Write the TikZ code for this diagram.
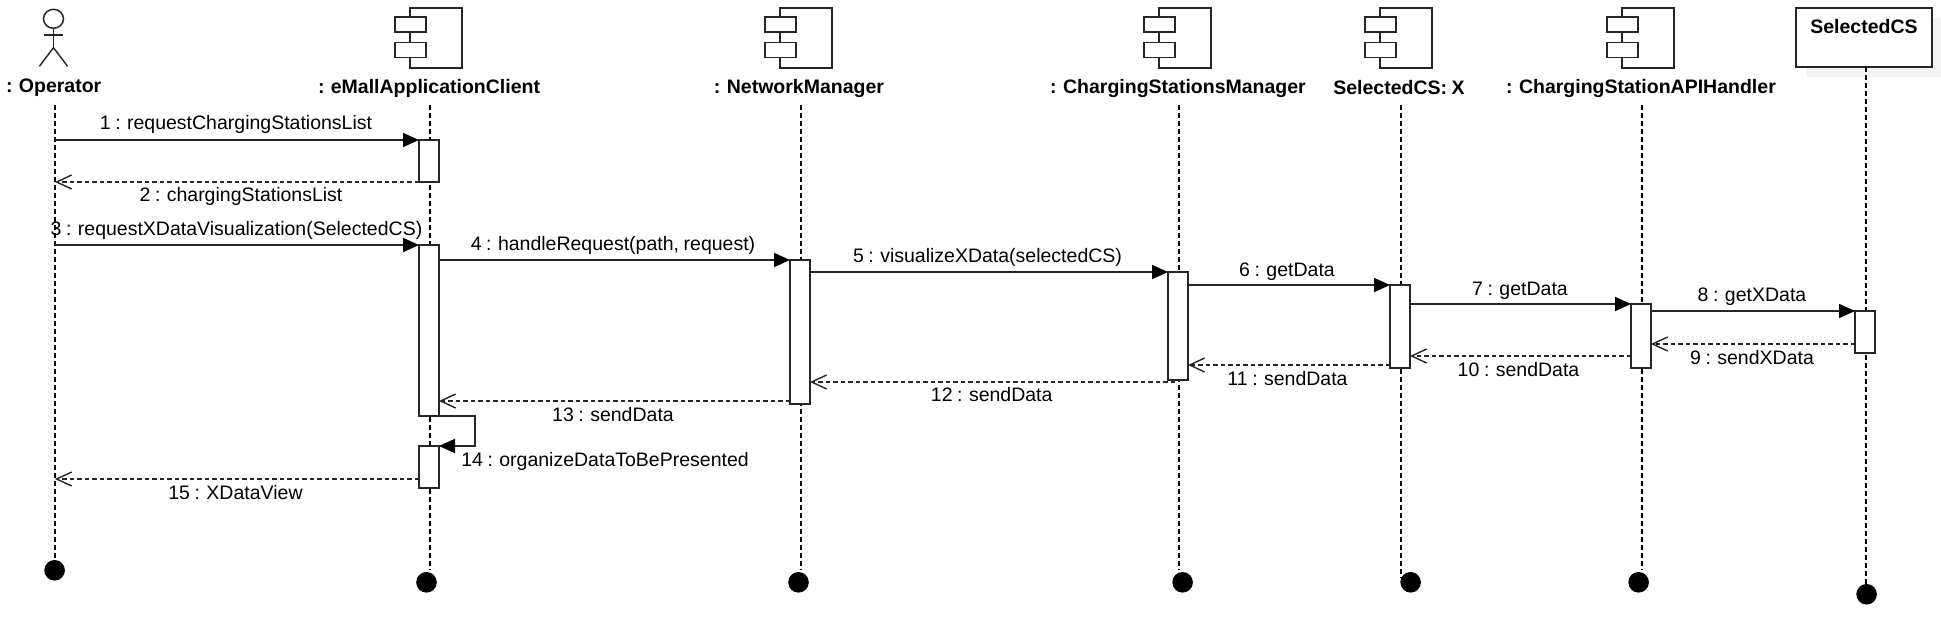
\documentclass[tikz,border=0pt]{standalone}
\usepackage{fontspec}
\setmainfont{Liberation Sans}[WordSpace=0.85]
\usetikzlibrary{arrows.meta,shapes.geometric}
\tikzset{
  x=1pt,y=-1pt,
  ln/.style={draw=black!85,line width=1.8pt},
  life/.style={draw=black,line width=1.25pt,dash pattern=on 5pt off 3pt},
  act/.style={ln,fill=white,inner sep=0pt,outer sep=0pt,minimum width=20pt,anchor=north west},
  part/.style={ln,fill=white,inner sep=0pt,outer sep=0pt,minimum width=31pt,minimum height=15pt,anchor=north west},
  bodybox/.style={ln,fill=white,inner sep=0pt,outer sep=0pt,minimum width=52pt,minimum height=60pt,anchor=north west},
  headlbl/.style={inner sep=0pt,font=\fontsize{19.5}{22}\selectfont\bfseries},
  msg/.style={inner sep=0pt,font=\fontsize{19.5}{22}\selectfont},
  enddot/.style={circle,fill=black,inner sep=0pt,minimum size=20.6pt},
  call/.style={ln,-{Triangle[length=16pt,width=14pt,color=black]}},
  ret/.style={ln,dash pattern=on 4.5pt off 3pt,-{Straight Barb[length=15pt,width=14pt,line width=1.4pt]}},
}
\newcommand{\comp}[2]{%
  \node[bodybox] (#1) at (#2,8) {};
  \node[part] (#1p) at (#2-15,17) {};
  \node[part] (#1q) at (#2-15,42.5) {};
}
\begin{document}
\begin{tikzpicture}
\useasboundingbox (0,0) rectangle (1941,637);
% shadow behind the SelectedCS box
\fill[black!5] (1807,18) rectangle (1941,77);

% actor
\node[ellipse,ln,line width=1.5pt,inner sep=0pt,minimum width=20pt,minimum height=19pt] (actorhead) at (53.5,18.8) {};
\coordinate (hip) at (53.5,47.7);
\draw[ln,line width=1.4pt] (actorhead.south) -- (hip);
\draw[ln,line width=1.4pt] (43.5,35) -- (63.4,35);
\draw[ln,line width=1.4pt] (39.4,66.3) -- (hip) -- (67.6,66.3);

% components and box
\comp{c1}{410}
\comp{c2}{780}
\comp{c3}{1159}
\comp{c4}{1380}
\comp{c5}{1622}
\node[ln,fill=white,inner sep=0pt,outer sep=0pt,minimum width=136pt,minimum height=59pt,anchor=north west] (csbox) at (1796,8) {};

% head labels
\node[headlbl] (n0) at (53.7,88) {: Operator};
\node[headlbl] (n1) at (429,88) {: eMallApplicationClient};
\node[headlbl] (n2) at (799,88) {: NetworkManager};
\node[headlbl] (n3) at (1178,88) {: ChargingStationsManager};
\node[headlbl] (n4) at (1399,88) {SelectedCS: X};
\node[headlbl] (n5) at (1641,88) {: ChargingStationAPIHandler};
\node[headlbl] (n6) at (1864,27) {SelectedCS};

% lifelines
\coordinate (t0) at (55,105);    \coordinate (e0) at (55,560);
\coordinate (t1) at (430,105);   \coordinate (e1) at (430,570);
\coordinate (t2) at (801,105);   \coordinate (e2) at (801,570);
\coordinate (t3) at (1179,105);  \coordinate (e3) at (1179,570);
\coordinate (t4) at (1401,105);  \coordinate (e4) at (1401,578);
\coordinate (t5) at (1642,105);  \coordinate (e5) at (1642,570);
\coordinate (t6) at (1866,67);   \coordinate (e6) at (1866,585);
\foreach \i in {0,...,6} \draw[life] (t\i) -- (e\i);

% end dots
\node[enddot] (d0) at (54.6,570.3) {};
\node[enddot] (d1) at (426.5,582.3) {};
\node[enddot] (d2) at (798.5,582.3) {};
\node[enddot] (d3) at (1182.6,582.3) {};
\node[enddot] (d4) at (1410.6,582.3) {};
\node[enddot] (d5) at (1638.6,582.3) {};
\node[enddot] (d6) at (1866.6,594.3) {};

% activations
\node[act,minimum height=42pt] (a1) at (419,140) {};
\node[act,minimum height=171pt] (a2) at (419,245) {};
\node[act,minimum height=144pt] (a3) at (790,260) {};
\node[act,minimum height=108pt] (a4) at (1168,272) {};
\node[act,minimum height=83pt] (a5) at (1390,285) {};
\node[act,minimum height=64pt] (a6) at (1631,304) {};
\node[act,minimum height=42pt] (a7) at (1855,311) {};
\node[act,minimum height=42pt] (a8) at (419,446) {};

% return levels
\coordinate (r9) at (1850,344);
\coordinate (r10) at (1625,356);
\coordinate (r11) at (1385,365);
\coordinate (r12) at (1175,382);
\coordinate (r13) at (785,401);
\coordinate (r15) at (415,479);

% messages
\draw[call] (t0 |- a1.north west) -- (a1.north west);
\draw[ret] (a1.south west) -- (t0 |- a1.south west);
\draw[call] (t0 |- a2.north west) -- (a2.north west);
\draw[call] (a2.east |- a3.north west) -- (a3.north west);
\draw[call] (a3.east |- a4.north west) -- (a4.north west);
\draw[call] (a4.east |- a5.north west) -- (a5.north west);
\draw[call] (a5.east |- a6.north west) -- (a6.north west);
\draw[call] (a6.east |- a7.north west) -- (a7.north west);
\draw[ret] (a7.west |- r9) -- (a6.east |- r9);
\draw[ret] (a6.west |- r10) -- (a5.east |- r10);
\draw[ret] (a5.west |- r11) -- (a4.east |- r11);
\draw[ret] (r12) -- (a3.east |- r12);
\draw[ret] (a3.west |- r13) -- (a2.east |- r13);
\draw[call] (a2.south east) -- ++(36,0) |- (a8.north east);
\draw[ret] (a8.west |- r15) -- (t0 |- r15);

% message labels
\node[msg] (l1) at (236,124.5) {1 : requestChargingStationsList};
\node[msg] (l2) at (241,196.5) {2 : chargingStationsList};
\node[msg] (l3) at (236.5,230.2) {3 : requestXDataVisualization(SelectedCS)};
\node[msg] (l4) at (613,245) {4 : handleRequest(path, request)};
\node[msg] (l5) at (987.5,257.5) {5 : visualizeXData(selectedCS)};
\node[msg] (l6) at (1287,272) {6 : getData};
\node[msg] (l7) at (1520,291) {7 : getData};
\node[msg] (l8) at (1752,297) {8 : getXData};
\node[msg] (l9) at (1752,357.8) {9 : sendXData};
\node[msg] (l10) at (1518.5,369.8) {10 : sendData};
\node[msg] (l11) at (1287.5,378.4) {11 : sendData};
\node[msg] (l12) at (991.7,395) {12 : sendData};
\node[msg] (l13) at (613,414.4) {13 : sendData};
\node[msg] (l14) at (605,461) {14 : organizeDataToBePresented};
\node[msg] (l15) at (235.5,492.4) {15 : XDataView};
\end{tikzpicture}
\end{document}
